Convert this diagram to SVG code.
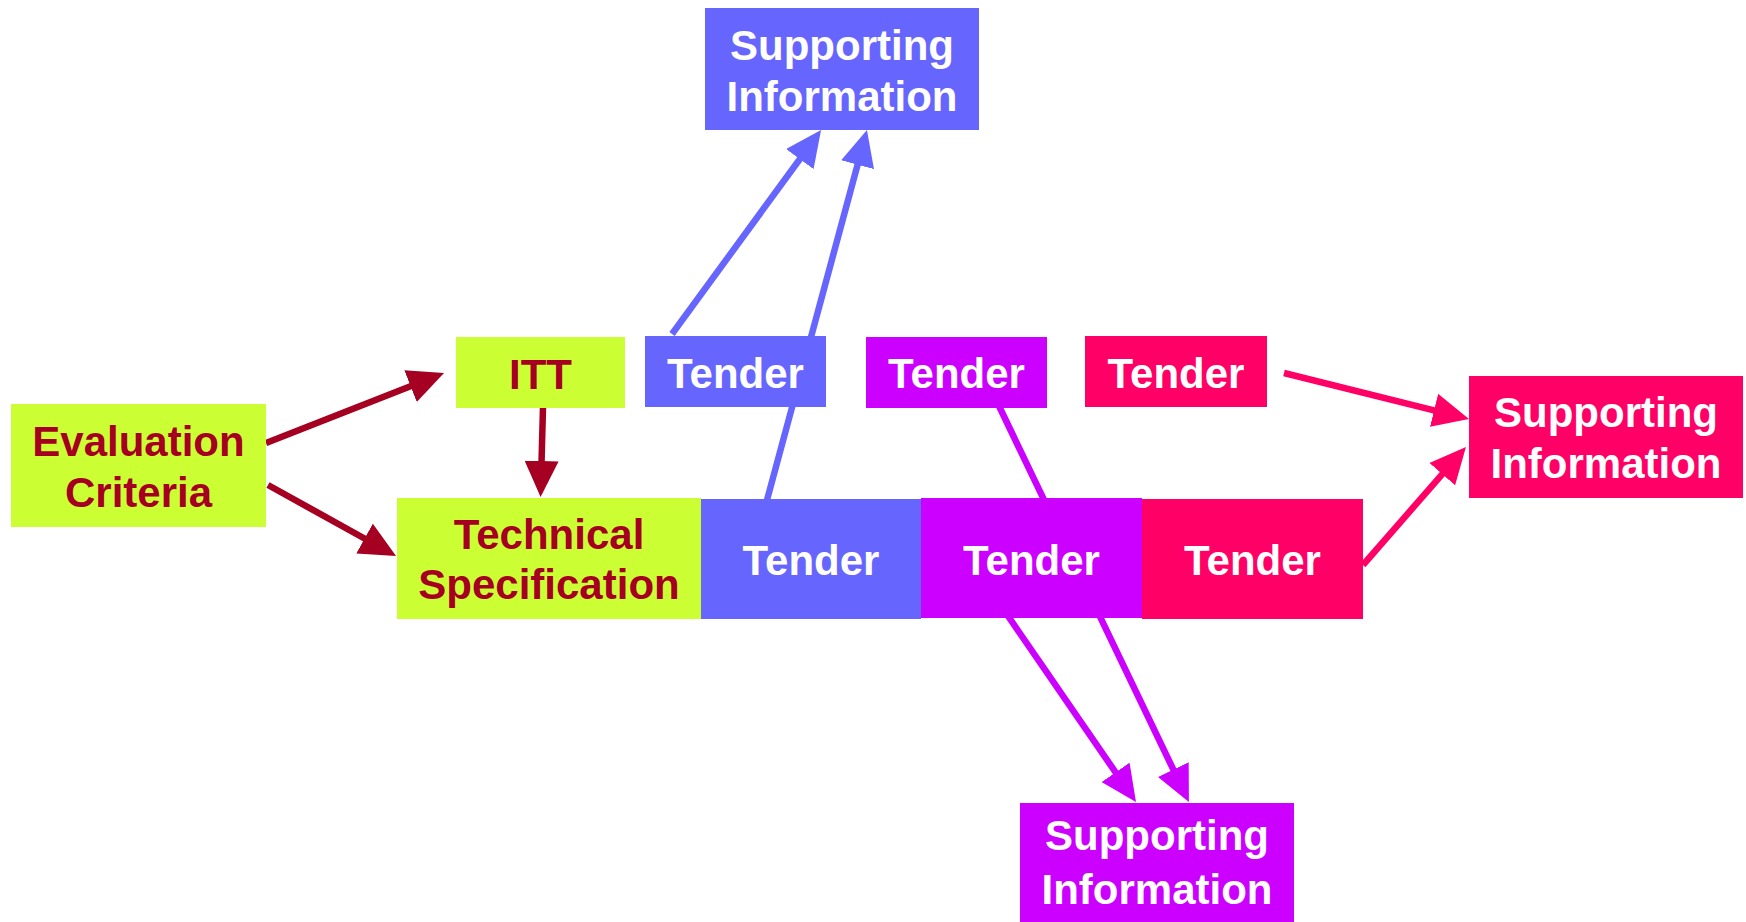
<svg xmlns="http://www.w3.org/2000/svg" width="1746" height="922" viewBox="0 0 1746 922">
<style>
  text { font-family: "Liberation Sans", Arial, sans-serif; font-weight: bold; font-size: 42px; text-anchor: middle; }
  .lime { fill: #CCFF33; }
  .blue { fill: #6666FF; }
  .purple { fill: #CC00FF; }
  .red { fill: #FF0066; }
  .tdark { fill: #A50021; }
  .twhite { fill: #FFFFFF; }
  .c { fill: none; stroke-width: 6.5; }
</style>
<defs>
  <marker id="ah-dark" markerUnits="userSpaceOnUse" viewBox="0 0 36 34" refX="2" refY="17" markerWidth="36" markerHeight="34" orient="auto"><path d="M0,0 L36,17 L0,34 z" fill="#A50021"/></marker>
  <marker id="ah-blue" markerUnits="userSpaceOnUse" viewBox="0 0 36 34" refX="2" refY="17" markerWidth="36" markerHeight="34" orient="auto"><path d="M0,0 L36,17 L0,34 z" fill="#6666FF"/></marker>
  <marker id="ah-purple" markerUnits="userSpaceOnUse" viewBox="0 0 36 34" refX="2" refY="17" markerWidth="36" markerHeight="34" orient="auto"><path d="M0,0 L36,17 L0,34 z" fill="#CC00FF"/></marker>
  <marker id="ah-red" markerUnits="userSpaceOnUse" viewBox="0 0 36 34" refX="2" refY="17" markerWidth="36" markerHeight="34" orient="auto"><path d="M0,0 L36,17 L0,34 z" fill="#FF0066"/></marker>
</defs>
<rect width="1746" height="922" fill="#FFFFFF"/>
<g id="connectors">
  <line class="c" stroke="#A50021" x1="266" y1="443" x2="412.4" y2="385.4" marker-end="url(#ah-dark)"/>
  <line class="c" stroke="#A50021" x1="268" y1="485" x2="366.3" y2="539.5" marker-end="url(#ah-dark)"/>
  <line class="c" stroke="#A50021" x1="543" y1="407" x2="541.5" y2="463" marker-end="url(#ah-dark)"/>
  <line class="c" stroke="#6666FF" x1="672" y1="334" x2="801" y2="157.5" marker-end="url(#ah-blue)"/>
  <line class="c" stroke="#6666FF" x1="767" y1="500" x2="858.1" y2="162.8" marker-end="url(#ah-blue)"/>
  <line class="c" stroke="#CC00FF" x1="1008" y1="616" x2="1116.7" y2="774" marker-end="url(#ah-purple)"/>
  <line class="c" stroke="#CC00FF" x1="999" y1="406" x2="1174.2" y2="771.4" marker-end="url(#ah-purple)"/>
  <line class="c" stroke="#FF0066" x1="1284" y1="373" x2="1436" y2="410.8" marker-end="url(#ah-red)"/>
  <line class="c" stroke="#FF0066" x1="1363" y1="565" x2="1443.6" y2="472.6" marker-end="url(#ah-red)"/>
</g>
<g id="evaluation-criteria">
  <rect class="lime" x="11" y="404" width="255" height="123"/>
  <text class="tdark" x="138.5" y="456">Evaluation</text>
  <text class="tdark" x="138.5" y="507">Criteria</text>
</g>
<g id="itt">
  <rect class="lime" x="456" y="337" width="169" height="71"/>
  <text class="tdark" x="540.5" y="389">ITT</text>
</g>
<g id="technical-specification">
  <rect class="lime" x="397" y="498" width="304" height="121"/>
  <text class="tdark" x="549" y="549">Technical</text>
  <text class="tdark" x="549" y="599">Specification</text>
</g>
<g id="tender-blue-large">
  <rect class="blue" x="701" y="499" width="220" height="120"/>
  <text class="twhite" x="811" y="575">Tender</text>
</g>
<g id="tender-purple-large">
  <rect class="purple" x="921" y="498" width="221" height="120"/>
  <text class="twhite" x="1031.5" y="575">Tender</text>
</g>
<g id="tender-red-large">
  <rect class="red" x="1142" y="499" width="221" height="120"/>
  <text class="twhite" x="1252.5" y="575">Tender</text>
</g>
<g id="tender-blue-small">
  <rect class="blue" x="645" y="336" width="181" height="71"/>
  <text class="twhite" x="735.5" y="388">Tender</text>
</g>
<g id="tender-purple-small">
  <rect class="purple" x="866" y="337" width="181" height="71"/>
  <text class="twhite" x="956.5" y="388">Tender</text>
</g>
<g id="tender-red-small">
  <rect class="red" x="1085" y="336" width="182" height="71"/>
  <text class="twhite" x="1176" y="388">Tender</text>
</g>
<g id="supporting-info-blue">
  <rect class="blue" x="705" y="8" width="274" height="122"/>
  <text class="twhite" x="842" y="60">Supporting</text>
  <text class="twhite" x="842" y="111">Information</text>
</g>
<g id="supporting-info-purple">
  <rect class="purple" x="1020" y="803" width="274" height="119"/>
  <text class="twhite" x="1157" y="850">Supporting</text>
  <text class="twhite" x="1157" y="904">Information</text>
</g>
<g id="supporting-info-red">
  <rect class="red" x="1469" y="376" width="274" height="122"/>
  <text class="twhite" x="1606" y="427">Supporting</text>
  <text class="twhite" x="1606" y="478">Information</text>
</g>
</svg>
